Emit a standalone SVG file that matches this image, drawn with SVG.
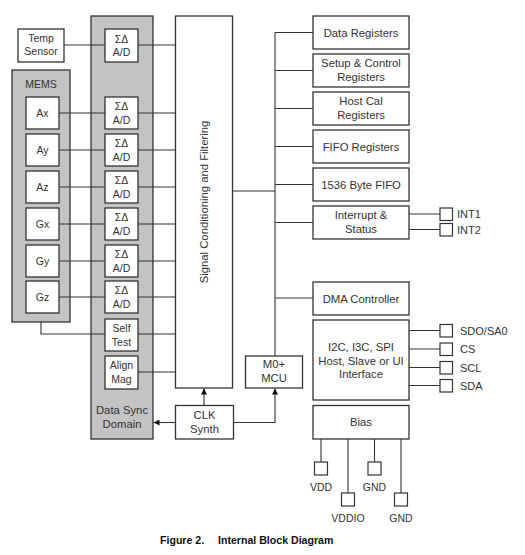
<svg xmlns="http://www.w3.org/2000/svg" width="525" height="555" viewBox="0 0 525 555">
<defs>
<style>
.bx{fill:#fff;stroke:#333;stroke-width:1.3}
.gr{fill:#c3c3c3;stroke:#333;stroke-width:1.3}
.pin{fill:#fff;stroke:#333;stroke-width:1.2}
.ln{fill:none;stroke:#333;stroke-width:1.1}
text{font-family:"Liberation Sans",Arial,sans-serif;font-size:11.3px;fill:#333;text-anchor:middle}
.sm{font-size:10.5px}
.lb{text-anchor:start;font-size:11px}
.cap{font-weight:bold;font-size:10.6px;fill:#111;text-anchor:start}
</style>
<marker id="ah" viewBox="0 0 10 10" refX="10" refY="5" markerWidth="6" markerHeight="6" orient="auto" markerUnits="userSpaceOnUse">
<path d="M0,0 L10,5 L0,10 z" fill="#111"/>
</marker>
</defs>
<rect width="525" height="555" fill="#fff"/>

<g id="dsd"><rect class="gr" x="91" y="16" width="62" height="423"/>
<text x="122" y="414">Data Sync</text><text x="122" y="428">Domain</text></g>
<g id="mems"><rect class="gr" x="12" y="70" width="58" height="252"/>
<text class="sm" x="41" y="88">MEMS</text></g>

<g id="connectors">
<path class="ln" d="M64,45H105 M59,113H105 M59,150H105 M59,187H105 M59,224H105 M59,261H105 M59,297H105"/>
<path class="ln" d="M41,322V334H105"/>
<path class="ln" d="M138,45H175.5 M138,113H175.5 M138,150H175.5 M138,187H175.5 M138,224H175.5 M138,261H175.5 M138,297H175.5 M138,334H175.5 M138,372H175.5"/>
<path class="ln" d="M232.5,191H275 M275,32.5V356 M275,32.5H313 M275,70.5H313 M275,108.5H313 M275,146.5H313 M275,184.5H313 M275,222.5H313 M275,298H313"/>
<path class="ln" d="M409,214H440 M409,229.5H440"/>
<path class="ln" d="M409,330.5H440 M409,349H440 M409,367.5H440 M409,385.5H440"/>
<path class="ln" d="M321,439V462 M348,439V493 M374.5,439V462 M401,439V493"/>
<path class="ln" d="M204,405.5V388.5" marker-end="url(#ah)"/>
<path class="ln" d="M233.5,422.5H275V388.5" marker-end="url(#ah)"/>
<path class="ln" d="M175.5,422.5H153.5" marker-end="url(#ah)"/>
</g>

<g id="temp"><rect class="bx" x="18" y="29" width="46" height="33"/><text class="sm" x="41" y="42">Temp</text><text class="sm" x="41" y="55">Sensor</text></g>
<g id="adc0"><rect class="bx" x="105" y="29" width="33" height="33"/><text class="sm" x="121.5" y="43">ΣΔ</text><text class="sm" x="121.5" y="56">A/D</text></g>

<g id="ax"><rect class="bx" x="26" y="97" width="33" height="32"/><text class="sm" x="42.5" y="117">Ax</text></g>
<g id="ay"><rect class="bx" x="26" y="134" width="33" height="32"/><text class="sm" x="42.5" y="154">Ay</text></g>
<g id="az"><rect class="bx" x="26" y="171" width="33" height="32"/><text class="sm" x="42.5" y="191">Az</text></g>
<g id="gx"><rect class="bx" x="26" y="208" width="33" height="32"/><text class="sm" x="42.5" y="228">Gx</text></g>
<g id="gy"><rect class="bx" x="26" y="245" width="33" height="32"/><text class="sm" x="42.5" y="265">Gy</text></g>
<g id="gz"><rect class="bx" x="26" y="281" width="33" height="32"/><text class="sm" x="42.5" y="301">Gz</text></g>

<g id="adc1"><rect class="bx" x="105" y="97" width="33" height="32"/><text class="sm" x="121.5" y="110">ΣΔ</text><text class="sm" x="121.5" y="123.5">A/D</text></g>
<g id="adc2"><rect class="bx" x="105" y="134" width="33" height="32"/><text class="sm" x="121.5" y="147">ΣΔ</text><text class="sm" x="121.5" y="160.5">A/D</text></g>
<g id="adc3"><rect class="bx" x="105" y="171" width="33" height="32"/><text class="sm" x="121.5" y="184">ΣΔ</text><text class="sm" x="121.5" y="197.5">A/D</text></g>
<g id="adc4"><rect class="bx" x="105" y="208" width="33" height="32"/><text class="sm" x="121.5" y="221">ΣΔ</text><text class="sm" x="121.5" y="234.5">A/D</text></g>
<g id="adc5"><rect class="bx" x="105" y="245" width="33" height="32"/><text class="sm" x="121.5" y="258">ΣΔ</text><text class="sm" x="121.5" y="271.5">A/D</text></g>
<g id="adc6"><rect class="bx" x="105" y="281" width="33" height="32"/><text class="sm" x="121.5" y="294">ΣΔ</text><text class="sm" x="121.5" y="307.5">A/D</text></g>
<g id="selftest"><rect class="bx" x="105" y="319" width="33" height="32"/><text class="sm" x="121.5" y="332">Self</text><text class="sm" x="121.5" y="345.5">Test</text></g>
<g id="alignmag"><rect class="bx" x="105" y="356" width="33" height="33"/><text class="sm" x="121.5" y="369">Align</text><text class="sm" x="121.5" y="383">Mag</text></g>

<g id="signal"><rect class="bx" x="175.5" y="16" width="57" height="372"/>
<text x="0" y="0" font-size="10.8" transform="translate(208,202) rotate(-90)">Signal Conditioning and Filtering</text></g>

<g id="datareg"><rect class="bx" x="313" y="16" width="96" height="33"/><text x="361" y="36.5">Data Registers</text></g>
<g id="setup"><rect class="bx" x="313" y="54" width="96" height="33"/><text x="361" y="66.5">Setup &amp; Control</text><text x="361" y="80.5">Registers</text></g>
<g id="hostcal"><rect class="bx" x="313" y="92" width="96" height="33"/><text x="361" y="104.5">Host Cal</text><text x="361" y="118.5">Registers</text></g>
<g id="fiforeg"><rect class="bx" x="313" y="130" width="96" height="33"/><text x="361" y="150.5">FIFO Registers</text></g>
<g id="fifo"><rect class="bx" x="313" y="168" width="96" height="33"/><text x="361" y="188.5">1536 Byte FIFO</text></g>
<g id="intr"><rect class="bx" x="313" y="206" width="96" height="33"/><text x="361" y="218.5">Interrupt &amp;</text><text x="361" y="232.5">Status</text></g>
<g id="int1"><rect class="pin" x="440" y="208" width="12.5" height="12.5"/><text class="lb" x="457" y="218">INT1</text></g>
<g id="int2"><rect class="pin" x="440" y="223.5" width="12.5" height="12.5"/><text class="lb" x="457" y="233.5">INT2</text></g>

<g id="dma"><rect class="bx" x="313" y="282" width="96" height="33"/><text x="361" y="302.5">DMA Controller</text></g>
<g id="iface"><rect class="bx" x="313" y="320" width="96" height="80"/><text x="361" y="350.5">I2C, I3C, SPI</text><text x="361" y="364.5">Host, Slave or UI</text><text x="361" y="378">Interface</text></g>
<g id="sdo"><rect class="pin" x="440" y="324.5" width="12.5" height="12.5"/><text class="lb" x="460" y="334.5">SDO/SA0</text></g>
<g id="cs"><rect class="pin" x="440" y="343" width="12.5" height="12.5"/><text class="lb" x="460" y="353">CS</text></g>
<g id="scl"><rect class="pin" x="440" y="361.5" width="12.5" height="12.5"/><text class="lb" x="460" y="371.5">SCL</text></g>
<g id="sda"><rect class="pin" x="440" y="379.5" width="12.5" height="12.5"/><text class="lb" x="460" y="389.5">SDA</text></g>
<g id="bias"><rect class="bx" x="313" y="405.5" width="96" height="33.5"/><text x="361" y="426">Bias</text></g>
<g id="vdd"><rect class="pin" x="314.5" y="462" width="13" height="13"/><text class="sm" x="321" y="490.5">VDD</text></g>
<g id="gnd1"><rect class="pin" x="368" y="462" width="13" height="13"/><text class="sm" x="374.5" y="490.5">GND</text></g>
<g id="vddio"><rect class="pin" x="341.5" y="493" width="13" height="13"/><text class="sm" x="348" y="522">VDDIO</text></g>
<g id="gnd2"><rect class="pin" x="394.5" y="493" width="13" height="13"/><text class="sm" x="401" y="522">GND</text></g>

<g id="mcu"><rect class="bx" x="245.5" y="356" width="57" height="32"/><text x="274" y="368">M0+</text><text x="274" y="382">MCU</text></g>
<g id="clk"><rect class="bx" x="175.5" y="405.5" width="58" height="33.5"/><text x="204.5" y="419">CLK</text><text x="204.5" y="433">Synth</text></g>

<text class="cap" x="160" y="543.5">Figure 2.</text>
<text class="cap" x="218" y="543.5">Internal Block Diagram</text>
</svg>
